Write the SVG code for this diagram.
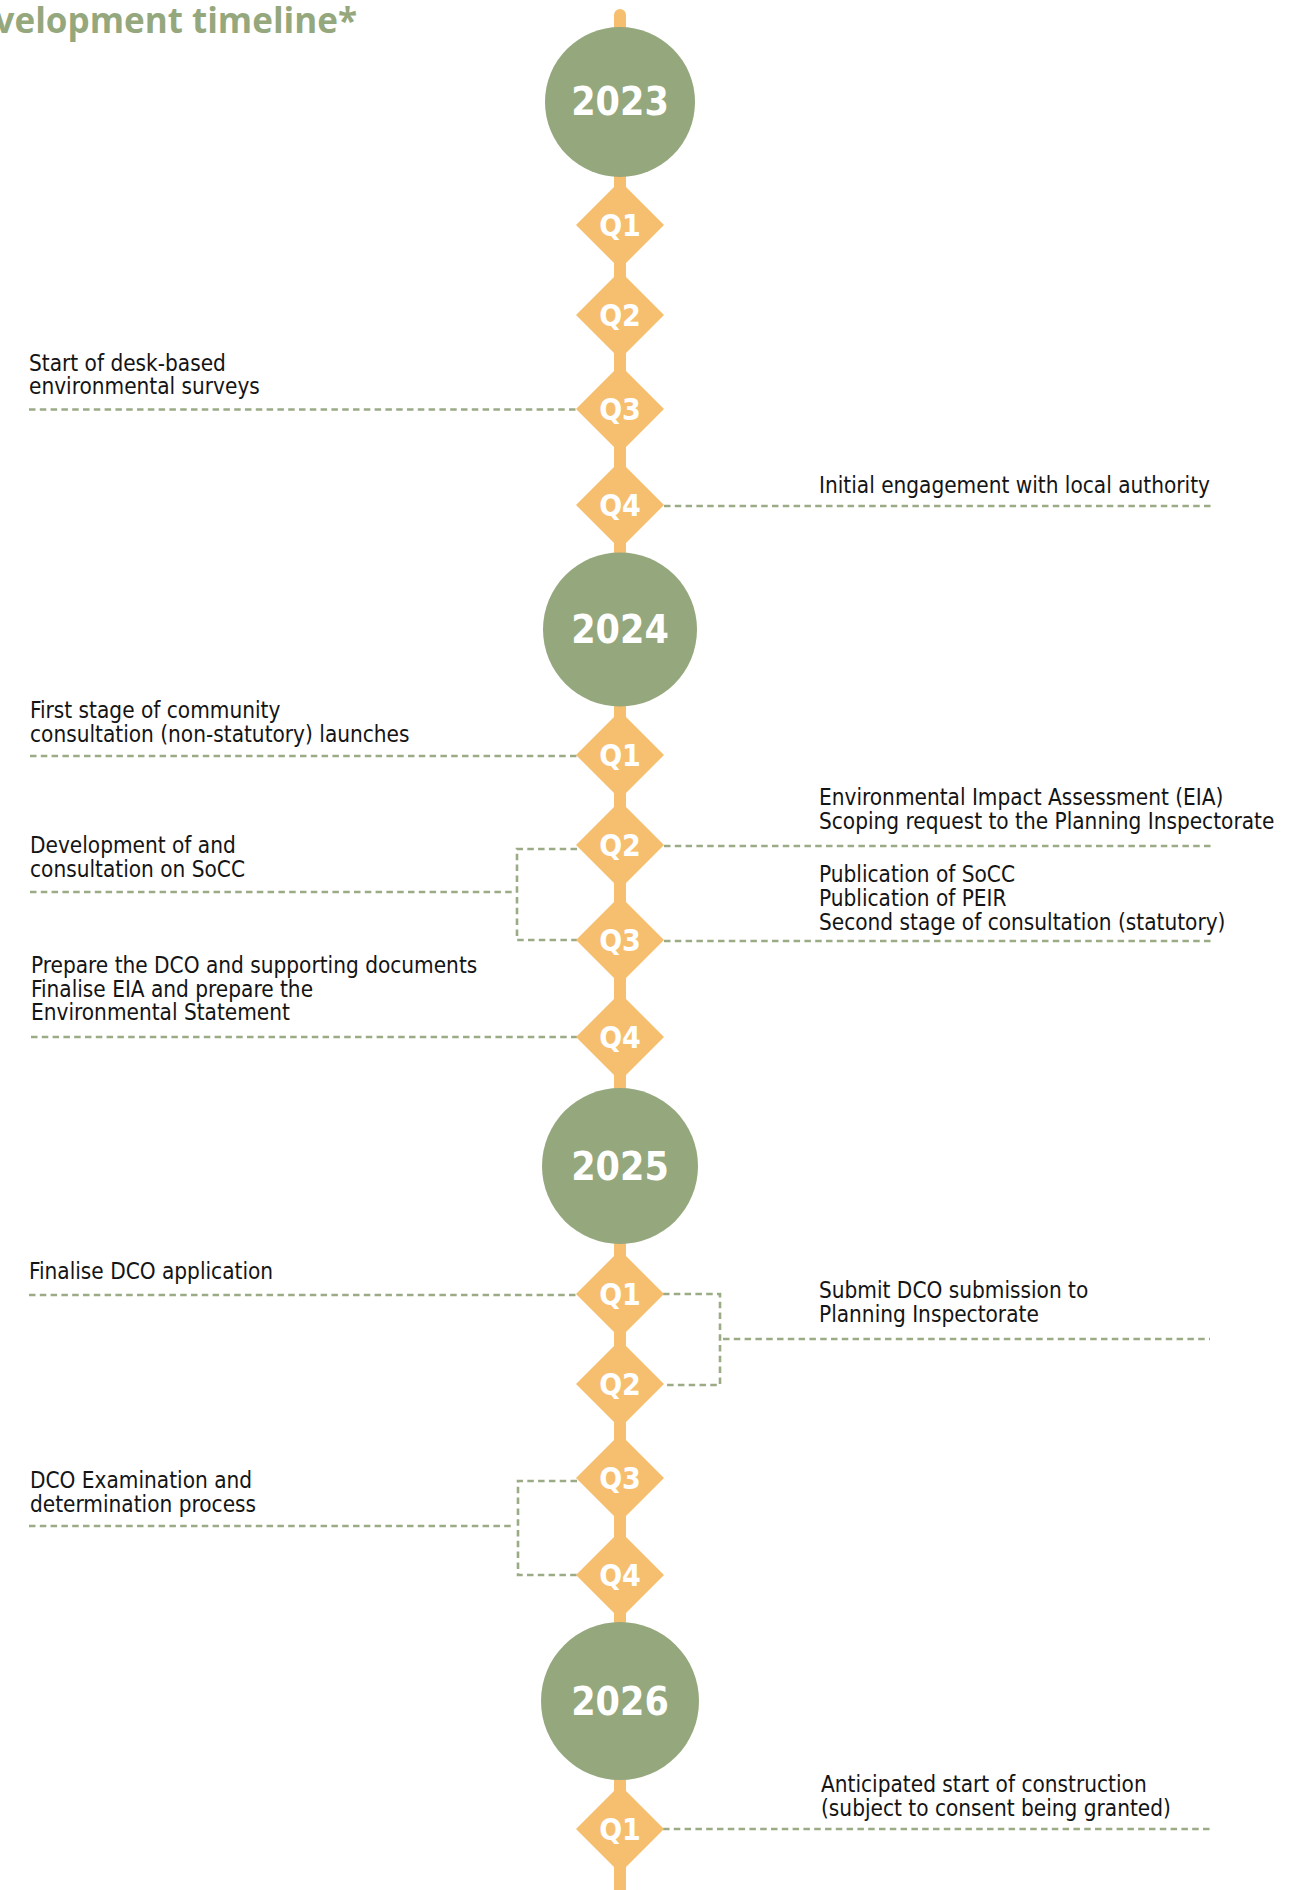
<svg xmlns="http://www.w3.org/2000/svg" xmlns:xlink="http://www.w3.org/1999/xlink" width="1313" height="1890" viewBox="0 0 1313 1890">
  <style>
    .title { font-family: "Open Sans", "Liberation Sans", sans-serif; font-weight: 700; font-size: 35px; fill: #95a77d; }
    .year { font-family: "DejaVu Sans Condensed", "DejaVu Sans", sans-serif; font-weight: 700; font-size: 39px; fill: #ffffff; text-anchor: middle; }
    .qtr { font-family: "DejaVu Sans Condensed", "DejaVu Sans", sans-serif; font-weight: 700; font-size: 30px; fill: #ffffff; text-anchor: middle; }
    .note { font-family: "DejaVu Sans Condensed", "Liberation Sans", sans-serif; font-size: 22.4px; fill: #141414; }
    .yearDisc { fill: #95a77d; }
    .qDiamond { fill: #f6be6f; }
    .lead { fill: none; stroke: #9aab86; stroke-width: 2.6; stroke-dasharray: 6.5 4.3; }
    .spine { stroke: #f6be6f; stroke-width: 12; stroke-linecap: round; }
  </style>
  <defs>
    <path id="diamond" d="M0,-44 L44,0 L0,44 L-44,0 Z"/>
  </defs>

  <text class="title" x="357" y="33" text-anchor="end">Development timeline*</text>

  <!-- spine and dashed leader lines -->
  <g id="connectors">
    <line class="spine" x1="620" y1="15" x2="620" y2="1900"/>
    <!-- 2023 -->
    <line class="lead" x1="29" y1="409.5" x2="577" y2="409.5"/>
    <line class="lead" x1="664" y1="506" x2="1214" y2="506"/>
    <!-- 2024 -->
    <line class="lead" x1="30" y1="756" x2="577" y2="756"/>
    <line class="lead" x1="30" y1="892" x2="513" y2="892"/>
    <polyline class="lead" points="577,849 517,849 517,940 577,940"/>
    <line class="lead" x1="31" y1="1037" x2="577" y2="1037"/>
    <line class="lead" x1="664" y1="846" x2="1214" y2="846"/>
    <line class="lead" x1="664" y1="941" x2="1214" y2="941"/>
    <!-- 2025 -->
    <line class="lead" x1="29" y1="1295" x2="577" y2="1295"/>
    <polyline class="lead" points="663,1294 720,1294 720,1385 663,1385"/>
    <line class="lead" x1="723" y1="1339" x2="1210" y2="1339"/>
    <line class="lead" x1="29" y1="1526" x2="512" y2="1526"/>
    <polyline class="lead" points="577,1481 518,1481 518,1575 577,1575"/>
    <!-- 2026 -->
    <line class="lead" x1="663" y1="1829" x2="1211" y2="1829"/>
  </g>

  <!-- year discs -->
  <g id="y2023"><circle class="yearDisc" cx="620" cy="102" r="75"/><text class="year" x="620" y="115">2023</text></g>
  <g id="y2024"><circle class="yearDisc" cx="620" cy="629.5" r="77"/><text class="year" x="620" y="643">2024</text></g>
  <g id="y2025"><circle class="yearDisc" cx="620" cy="1166" r="78"/><text class="year" x="620" y="1180">2025</text></g>
  <g id="y2026"><circle class="yearDisc" cx="620" cy="1701" r="79"/><text class="year" x="620" y="1715">2026</text></g>

  <!-- quarter diamonds -->
  <g id="q2023-1"><use href="#diamond" class="qDiamond" x="620" y="225"/><text class="qtr" x="620" y="236">Q1</text></g>
  <g id="q2023-2"><use href="#diamond" class="qDiamond" x="620" y="315"/><text class="qtr" x="620" y="326">Q2</text></g>
  <g id="q2023-3"><use href="#diamond" class="qDiamond" x="620" y="409"/><text class="qtr" x="620" y="420">Q3</text></g>
  <g id="q2023-4"><use href="#diamond" class="qDiamond" x="620" y="505"/><text class="qtr" x="620" y="516">Q4</text></g>

  <g id="q2024-1"><use href="#diamond" class="qDiamond" x="620" y="755"/><text class="qtr" x="620" y="766">Q1</text></g>
  <g id="q2024-2"><use href="#diamond" class="qDiamond" x="620" y="845"/><text class="qtr" x="620" y="856">Q2</text></g>
  <g id="q2024-3"><use href="#diamond" class="qDiamond" x="620" y="940"/><text class="qtr" x="620" y="951">Q3</text></g>
  <g id="q2024-4"><use href="#diamond" class="qDiamond" x="620" y="1037"/><text class="qtr" x="620" y="1048">Q4</text></g>

  <g id="q2025-1"><use href="#diamond" class="qDiamond" x="620" y="1294"/><text class="qtr" x="620" y="1305">Q1</text></g>
  <g id="q2025-2"><use href="#diamond" class="qDiamond" x="620" y="1384"/><text class="qtr" x="620" y="1395">Q2</text></g>
  <g id="q2025-3"><use href="#diamond" class="qDiamond" x="620" y="1478"/><text class="qtr" x="620" y="1489">Q3</text></g>
  <g id="q2025-4"><use href="#diamond" class="qDiamond" x="620" y="1575"/><text class="qtr" x="620" y="1586">Q4</text></g>

  <g id="q2026-1"><use href="#diamond" class="qDiamond" x="620" y="1829"/><text class="qtr" x="620" y="1840">Q1</text></g>

  <!-- milestone notes, left side -->
  <g id="note-desk-surveys"><text class="note" x="29" y="370.5"><tspan x="29">Start of desk-based</tspan><tspan x="29" dy="23.5">environmental surveys</tspan></text></g>
  <g id="note-first-consultation"><text class="note" x="30" y="718"><tspan x="30">First stage of community</tspan><tspan x="30" dy="24">consultation (non-statutory) launches</tspan></text></g>
  <g id="note-socc"><text class="note" x="30" y="853"><tspan x="30">Development of and</tspan><tspan x="30" dy="24">consultation on SoCC</tspan></text></g>
  <g id="note-prepare-dco"><text class="note" x="31" y="973"><tspan x="31">Prepare the DCO and supporting documents</tspan><tspan x="31" dy="23.5">Finalise EIA and prepare the</tspan><tspan x="31" dy="23.5">Environmental Statement</tspan></text></g>
  <g id="note-finalise-dco"><text class="note" x="29" y="1279">Finalise DCO application</text></g>
  <g id="note-examination"><text class="note" x="30" y="1488"><tspan x="30">DCO Examination and</tspan><tspan x="30" dy="24">determination process</tspan></text></g>

  <!-- milestone notes, right side -->
  <g id="note-local-authority"><text class="note" x="819" y="493">Initial engagement with local authority</text></g>
  <g id="note-eia-scoping"><text class="note" x="819" y="805"><tspan x="819">Environmental Impact Assessment (EIA)</tspan><tspan x="819" dy="23.5">Scoping request to the Planning Inspectorate</tspan></text></g>
  <g id="note-statutory"><text class="note" x="819" y="882"><tspan x="819">Publication of SoCC</tspan><tspan x="819" dy="24">Publication of PEIR</tspan><tspan x="819" dy="24">Second stage of consultation (statutory)</tspan></text></g>
  <g id="note-submit-dco"><text class="note" x="819" y="1298"><tspan x="819">Submit DCO submission to</tspan><tspan x="819" dy="24">Planning Inspectorate</tspan></text></g>
  <g id="note-construction"><text class="note" x="821" y="1792"><tspan x="821">Anticipated start of construction</tspan><tspan x="821" dy="23.5">(subject to consent being granted)</tspan></text></g>
</svg>
